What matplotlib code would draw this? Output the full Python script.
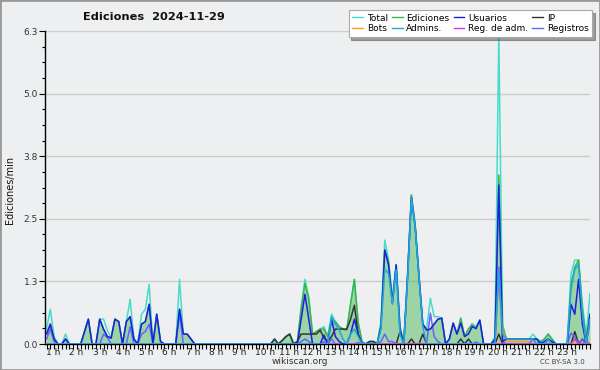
import matplotlib
matplotlib.use('Agg')
import matplotlib.pyplot as plt
from matplotlib.lines import Line2D
from matplotlib.patches import Rectangle
import matplotlib.transforms as mtransforms
import numpy as np

title = "Ediciones  2024-11-29"
ylabel = "Ediciones/min"
hour_numbers = list(range(1, 24))
ytick_vals = [0, 1.26, 2.52, 3.78, 5.04, 6.3]
ytick_labels = ["0.0", "1.3", "2.5", "3.8", "5.0", "6.3"]

# 10-minute bins, 6 per row (one row per hour)
total = [
    0.3, 0.7, 0.15, 0, 0, 0.2,
    0, 0, 0, 0, 0.25, 0.5,
    0, 0, 0.5, 0.5, 0.28, 0.12,
    0.5, 0.45, 0, 0.45, 0.9, 0.1,
    0, 0.6, 0.7, 1.2, 0, 0.6,
    0.05, 0, 0, 0, 0, 1.3,
    0.2, 0.2, 0.1, 0, 0, 0,
    0, 0, 0, 0, 0, 0,
    0, 0, 0, 0, 0, 0,
    0, 0, 0, 0, 0, 0,
    0.1, 0, 0.07, 0.15, 0.2, 0,
    0.05, 0.75, 1.3, 0.95, 0.2, 0.25,
    0.3, 0.35, 0.15, 0.6, 0.45, 0.35,
    0.3, 0.28, 0.8, 1.3, 0.45, 0.05,
    0, 0.05, 0.05, 0, 0.45, 2.09,
    1.7, 0.9, 1.6, 0.35, 0, 1.4,
    3.0, 2.4, 1.4, 0.4, 0.3, 0.92,
    0.55, 0.55, 0.52, 0, 0.1, 0.42,
    0.2, 0.52, 0.15, 0.3, 0.4, 0.35,
    0.48, 0, 0, 0, 0.15, 6.25,
    0.4, 0.1, 0.1, 0.1, 0.1, 0.1,
    0.1, 0.1, 0.2, 0.1, 0.05, 0.1,
    0.2, 0.1, 0, 0, 0, 0,
    1.42, 1.69, 1.69, 0.8, 0.15, 1.02,
]
ediciones = [
    0.2, 0.4, 0.1, 0, 0, 0.1,
    0, 0, 0, 0, 0.25, 0.5,
    0, 0, 0.5, 0.3, 0.15, 0.12,
    0.5, 0.45, 0, 0.45, 0.55, 0.1,
    0, 0.4, 0.45, 0.8, 0, 0.6,
    0.05, 0, 0, 0, 0, 0.7,
    0.2, 0.2, 0.1, 0, 0, 0,
    0, 0, 0, 0, 0, 0,
    0, 0, 0, 0, 0, 0,
    0, 0, 0, 0, 0, 0,
    0.1, 0, 0.07, 0.15, 0.2, 0,
    0.05, 0.7, 1.22, 0.9, 0.2, 0.25,
    0.3, 0.3, 0.15, 0.5, 0.45, 0.35,
    0.3, 0.28, 0.8, 1.3, 0.42, 0.05,
    0, 0.05, 0.05, 0, 0.4, 1.9,
    1.65, 0.85, 1.6, 0.35, 0, 1.4,
    3.0, 2.4, 1.4, 0.4, 0.3, 0.3,
    0.4, 0.5, 0.52, 0, 0.1, 0.42,
    0.2, 0.52, 0.15, 0.3, 0.4, 0.31,
    0.48, 0, 0, 0, 0.1, 3.4,
    0.35, 0.1, 0.1, 0.1, 0.1, 0.1,
    0.1, 0.1, 0.1, 0.1, 0.05, 0.1,
    0.2, 0.1, 0, 0, 0, 0,
    1.2, 1.55, 1.69, 0.7, 0.1, 0.6,
]
usuarios = [
    0.2, 0.4, 0.1, 0, 0, 0.1,
    0, 0, 0, 0, 0.25, 0.5,
    0, 0, 0.5, 0.3, 0.15, 0.12,
    0.5, 0.45, 0, 0.45, 0.55, 0.1,
    0, 0.4, 0.45, 0.8, 0, 0.6,
    0.05, 0, 0, 0, 0, 0.7,
    0.2, 0.2, 0.1, 0, 0, 0,
    0, 0, 0, 0, 0, 0,
    0, 0, 0, 0, 0, 0,
    0, 0, 0, 0, 0, 0,
    0, 0, 0, 0, 0, 0,
    0, 0.5, 1.0, 0.5, 0, 0,
    0, 0.18, 0, 0.5, 0.15, 0.05,
    0, 0, 0.2, 0.5, 0.2, 0,
    0, 0, 0, 0, 0.35, 1.89,
    1.59, 0.82, 1.59, 0.28, 0, 1.35,
    2.95, 2.35, 1.35, 0.4, 0.28, 0.3,
    0.4, 0.5, 0.52, 0, 0.1, 0.42,
    0.2, 0.42, 0.15, 0.2, 0.35, 0.31,
    0.48, 0, 0, 0, 0.1, 3.2,
    0.05, 0.1, 0.1, 0.1, 0.1, 0.1,
    0.1, 0.1, 0.1, 0.1, 0, 0.05,
    0.1, 0.05, 0, 0, 0, 0,
    0.8, 0.6, 1.3, 0.4, 0, 0.6,
]
ip = [
    0, 0, 0, 0, 0, 0,
    0, 0, 0, 0, 0, 0,
    0, 0, 0, 0, 0, 0,
    0, 0, 0, 0, 0, 0,
    0, 0, 0, 0, 0, 0,
    0, 0, 0, 0, 0, 0,
    0, 0, 0, 0, 0, 0,
    0, 0, 0, 0, 0, 0,
    0, 0, 0, 0, 0, 0,
    0, 0, 0, 0, 0, 0,
    0.1, 0, 0.07, 0.15, 0.2, 0,
    0.05, 0.2, 0.2, 0.2, 0.2, 0.2,
    0.28, 0.12, 0.05, 0.15, 0.3, 0.3,
    0.3, 0.3, 0.5, 0.78, 0.2, 0,
    0, 0.05, 0.05, 0, 0, 0,
    0, 0, 0, 0.25, 0, 0,
    0.1, 0, 0, 0.2, 0, 0,
    0, 0, 0, 0, 0, 0,
    0, 0.1, 0, 0.1, 0, 0,
    0, 0, 0, 0, 0, 0.2,
    0, 0, 0, 0, 0, 0,
    0, 0, 0, 0, 0, 0,
    0.1, 0, 0, 0, 0, 0,
    0, 0.25, 0, 0.1, 0, 0,
]
bots = [0] * 114 + [
    0, 0, 0, 0, 0, 1.3,
    0.3, 0.05, 0.05, 0.05, 0.05, 0.05,
    0.05, 0.05, 0, 0, 0, 0,
    0, 0, 0, 0, 0, 0,
    0, 0, 0, 0, 0, 0,
]
admins = [
    0, 0, 0, 0, 0, 0,
    0, 0, 0, 0, 0, 0,
    0, 0, 0, 0, 0, 0,
    0, 0, 0, 0, 0, 0,
    0, 0, 0, 0, 0, 0,
    0, 0, 0, 0, 0, 0,
    0, 0, 0, 0, 0, 0,
    0, 0, 0, 0, 0, 0,
    0, 0, 0, 0, 0, 0,
    0, 0, 0, 0, 0, 0,
    0, 0, 0, 0, 0, 0,
    0, 0, 0, 0, 0, 0,
    0, 0, 0, 0.55, 0.4, 0.28,
    0.1, 0, 0.2, 0.3, 0.15, 0,
    0, 0, 0, 0, 0.3, 1.5,
    1.42, 0.8, 1.5, 0.2, 0, 1.3,
    2.95, 2.35, 1.35, 0.35, 0, 0,
    0, 0, 0, 0, 0, 0,
    0, 0, 0, 0, 0, 0,
    0, 0, 0, 0, 0, 1.5,
    0.2, 0.1, 0.1, 0.1, 0.1, 0.1,
    0.1, 0.1, 0.1, 0, 0, 0,
    0.1, 0, 0, 0, 0, 0,
    1.1, 1.5, 1.6, 0.6, 0, 0.5,
]
reg_adm = [0] * 138 + [0, 0.1, 0, 0, 0.05, 0]
registros = [
    0.1, 0.3, 0.05, 0, 0, 0.1,
    0, 0, 0, 0, 0, 0,
    0, 0, 0, 0.2, 0.13, 0,
    0, 0, 0, 0, 0.35, 0,
    0, 0.2, 0.25, 0.4, 0, 0,
    0, 0, 0, 0, 0, 0.6,
    0, 0, 0, 0, 0, 0,
    0, 0, 0, 0, 0, 0,
    0, 0, 0, 0, 0, 0,
    0, 0, 0, 0, 0, 0,
    0, 0, 0, 0, 0, 0,
    0, 0.05, 0.1, 0.05, 0, 0,
    0, 0.05, 0, 0.1, 0, 0,
    0, 0, 0, 0, 0.03, 0,
    0, 0, 0, 0, 0.05, 0.2,
    0.05, 0.05, 0, 0, 0, 0,
    0, 0, 0, 0, 0, 0.62,
    0.15, 0.05, 0, 0, 0, 0,
    0, 0, 0, 0, 0, 0.04,
    0, 0, 0, 0, 0.05, 1.55,
    0.05, 0, 0, 0, 0, 0,
    0, 0, 0.1, 0, 0.05, 0,
    0, 0, 0, 0, 0, 0,
    0.22, 0.14, 0, 0.1, 0.05, 0.42,
]

bg = '#eeeff0'
col_total = '#45dccb'
col_ed = '#3cb44b'
col_usu = '#1e1ee0'
col_ip = '#333333'
col_bots = '#ff9a1a'
col_adm = '#1fa8dc'
col_regadm = '#dd33dd'
col_reg = '#6464ff'

W, H = 600, 370
fig = plt.figure(figsize=(W / 100, H / 100), dpi=100)
fig.patch.set_facecolor(bg)
ax = fig.add_axes([45 / W, (H - 344) / H, 545 / W, 313 / H])
ax.set_facecolor(bg)

x = np.arange(len(total))
ax.set_xlim(-0.4, 143)
ax.set_ylim(0, 6.3)

for v in ytick_vals[1:]:
    ax.axhline(v, color='#cccccc', lw=1, zorder=0)

ax.fill_between(x, ediciones, 0, color=col_ed, alpha=0.45, lw=0, zorder=1)
lw = 1.1
ax.plot(x, total, color=col_total, lw=lw, zorder=2)
ax.plot(x, ediciones, color=col_ed, lw=lw, zorder=3)
ax.plot(x, ip, color=col_ip, lw=lw, zorder=4)
ax.plot(x, bots, color=col_bots, lw=lw, zorder=4)
ax.plot(x, registros, color=col_reg, lw=lw, zorder=5)
ax.plot(x, reg_adm, color=col_regadm, lw=lw, zorder=5)
ax.plot(x, usuarios, color=col_usu, lw=lw, zorder=6)
ax.plot(x, admins, color=col_adm, lw=lw, zorder=7)

for s in ['top', 'right']:
    ax.spines[s].set_visible(False)
for s in ['left', 'bottom']:
    ax.spines[s].set_color('black')
    ax.spines[s].set_linewidth(1.0)

ax.set_yticks(ytick_vals)
ax.set_yticklabels(ytick_labels)
ax.set_yticks(np.arange(0, 6.31, 0.315), minor=True)
ax.tick_params(axis='y', which='major', length=4, width=0.8, labelsize=6.5,
               labelcolor='#333333', pad=1)
ax.tick_params(axis='y', which='minor', length=2, width=0.8)
ax.set_xticks(x)
ax.set_xticklabels([])
ax.tick_params(axis='x', which='major', length=3.5, width=0.8, direction='out')

trans = mtransforms.blended_transform_factory(ax.transData, ax.transAxes)
for n in hour_numbers:
    pos = 6.11 * (n - 1) + 1.8 + (0.8 if n >= 10 else 0)
    ax.text(pos, -0.012, f"{n} h", transform=trans, ha='center', va='top',
            fontsize=6.5, color='#222222')

fig.text(154 / W, 1 - 17 / H, title, ha='center', va='center', fontsize=8.2,
         fontweight='bold', color='#111111')
fig.text(10 / W, 1 - 190 / H, ylabel, rotation=90, ha='center', va='center',
         fontsize=7, color='#111111')
fig.text(300 / W, 1 - 361 / H, "wikiscan.org", ha='center', va='center',
         fontsize=6.5, color='#333333')
fig.text(562 / W, 1 - 362 / H, "CC BY-SA 3.0", ha='center', va='center',
         fontsize=5, color='#444444')

handles = [
    Line2D([], [], color=col_total, lw=1), Line2D([], [], color=col_bots, lw=1),
    Line2D([], [], color=col_ed, lw=1), Line2D([], [], color=col_adm, lw=1),
    Line2D([], [], color=col_usu, lw=1), Line2D([], [], color=col_regadm, lw=1),
    Line2D([], [], color=col_ip, lw=1), Line2D([], [], color=col_reg, lw=1),
]
labels = ['Total', 'Bots', 'Ediciones', 'Admins.', 'Usuarios', 'Reg. de adm.',
          'IP', 'Registros']
leg = ax.legend(handles, labels, ncol=4, loc='upper right',
                bbox_to_anchor=(592 / W, 1 - 10 / H), bbox_transform=fig.transFigure,
                fontsize=6.5, frameon=True, fancybox=False, shadow=True,
                handlelength=1.2, handletextpad=0.4, columnspacing=0.45,
                borderpad=0.4, labelspacing=0.2, borderaxespad=0)
leg.get_frame().set_edgecolor('#aaaaaa')
leg.get_frame().set_linewidth(0.8)
leg.set_zorder(20)

fig.add_artist(Rectangle((0, 0), 1, 1, transform=fig.transFigure, fill=False,
                         edgecolor='#999999', lw=2))

fig.savefig('out.png', dpi=100, facecolor=bg)
